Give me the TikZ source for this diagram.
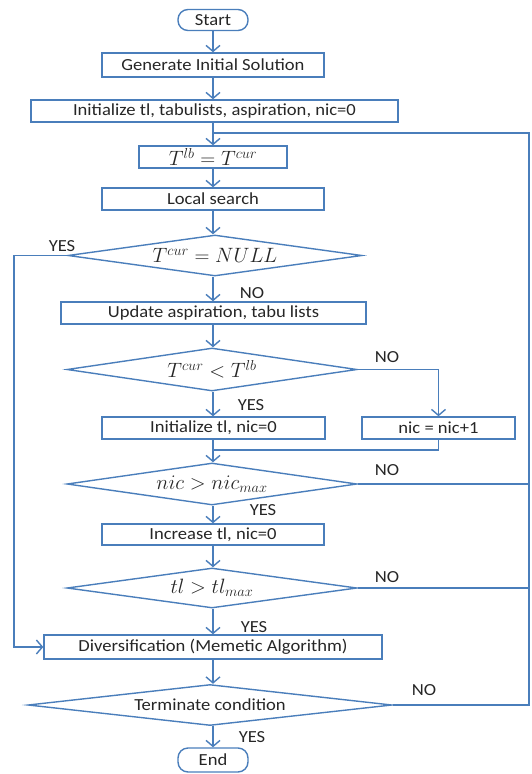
\documentclass[tikz,border=0pt]{standalone}
\usepackage{fontspec}
\setmainfont{Carlito}[FakeStretch=1.1]
\usetikzlibrary{arrows.meta,shapes.geometric}
\definecolor{fl}{HTML}{4A7EBB}
\definecolor{tx}{HTML}{262626}
\newcommand{\mth}[1]{{\fontsize{20}{22}\selectfont$#1$}}
\begin{document}
\begin{tikzpicture}[x=1pt,y=-1pt,
  every node/.style={font=\fontsize{16.9}{18}\selectfont, text=tx},
  box/.style={draw=fl, line width=1.4pt, rectangle, inner sep=0pt},
  term/.style={draw=fl, line width=1.4pt, rectangle, rounded corners=10pt, inner sep=0pt, minimum width=70pt, minimum height=21pt},
  dec/.style={draw=fl, line width=1.4pt, diamond, inner sep=0pt},
  conn/.style={draw=fl, line width=1.4pt},
  arr/.style={conn, -{Straight Barb[length=6pt,width=14pt,line width=1.4pt]}},
  lab/.style={inner sep=0pt}
]
\useasboundingbox (0,0) rectangle (531,774);

\node[term] (start) at (213,20) {Start};
\node[box, minimum width=222pt, minimum height=24pt] (gen) at (213,65) {Generate Initial Solution};
\node[box, minimum width=367pt, minimum height=22pt] (init) at (214.5,111) {Initialize tl, tabulists, aspiration, nic=0};
\node[box, minimum width=148pt, minimum height=22pt] (tlb) at (213,157) {\mth{T^{lb}=T^{cur}}};
\node[box, minimum width=222pt, minimum height=22pt] (ls) at (213,199) {Local search};
\node[dec, minimum width=294pt, minimum height=41pt] (d1) at (215,255.5) {\makebox[0pt]{\mth{T^{cur}=NULL}}};
\node[box, minimum width=305pt, minimum height=22pt] (upd) at (213.5,313) {Update aspiration, tabu lists};
\node[dec, minimum width=290pt, minimum height=43pt] (d2) at (212,369.5) {\makebox[0pt]{\mth{T^{cur}<T^{lb}}}};
\node[box, minimum width=223pt, minimum height=22pt] (initl) at (213.5,428) {Initialize tl, nic=0};
\node[box, minimum width=153pt, minimum height=22pt] (nicb) at (438.5,428) {nic = nic+1};
\node[dec, minimum width=290pt, minimum height=42pt] (d3) at (212,484) {\makebox[0pt]{\mth{nic>nic_{max}}}};
\node[box, minimum width=222pt, minimum height=21pt] (inc) at (213,534.5) {Increase tl, nic=0};
\node[dec, minimum width=290pt, minimum height=40pt] (d4) at (212,588) {\makebox[0pt]{\mth{tl>tl_{max}}}};
\node[box, minimum width=338pt, minimum height=24pt] (div) at (213,647) {Diversification (Memetic Algorithm)};
\node[dec, minimum width=364pt, minimum height=41pt] (d5) at (210,705) {\makebox[0pt]{Terminate condition}};
\node[term, minimum height=24pt] (end) at (213,760) {End};

\coordinate (loopTop) at (529,133);
\coordinate (mainTop) at (213,133);
\coordinate (loopBot) at (529,705);
\coordinate (leftTop) at (14,255.5);
\coordinate (leftBot) at (14,647);
\coordinate (nicR) at (438.5,369.5);
\coordinate (nicM) at (438.5,450);
\coordinate (mainM) at (213,450);

\draw[arr] (start.south) -- (start.south |- gen.north);
\draw[arr] (gen.south) -- (gen.south |- init.north);
\draw[arr] (init.south -| tlb.north) -- (tlb.north);
\draw[arr] (tlb.south) -- (tlb.south |- ls.north);
\draw[arr] (ls.south) -- (ls.south |- d1.north);
\draw[arr] (d1.south -| ls.south) -- (ls.south |- upd.north);
\draw[arr] (upd.south -| ls.south) -- (ls.south |- d2.north);
\draw[arr] (d2.south -| ls.south) -- (ls.south |- initl.north);
\draw[arr] (d2.east) -- (nicR) -- (nicb.north);
\draw[conn] (nicb.south) -- (nicM) -- (mainM);
\draw[arr] (initl.south -| ls.south) -- (ls.south |- d3.north);
\draw[arr] (d3.south -| ls.south) -- (ls.south |- inc.north);
\draw[arr] (inc.south) -- (inc.south |- d4.north);
\draw[arr] (d4.south -| ls.south) -- (ls.south |- div.north);
\draw[arr] (div.south) -- (div.south |- d5.north);
\draw[arr] (d5.south -| end.north) -- (end.north);
\draw[arr] (d1.west) -- (leftTop) -- (leftBot) -- (div.west);
\draw[conn] (d5.east) -- (loopBot) -- (loopTop) -- (mainTop);
\draw[conn] (d3.east) -- (d3.east -| loopTop);
\draw[conn] (d4.east) -- (d4.east -| loopTop);

\node[lab] at (62,246) {YES};
\node[lab] at (252,293) {NO};
\node[lab] at (387,357) {NO};
\node[lab] at (251,405) {YES};
\node[lab] at (387,470) {NO};
\node[lab] at (263,510) {YES};
\node[lab] at (387,577) {NO};
\node[lab] at (254,627) {YES};
\node[lab] at (424,690) {NO};
\node[lab] at (252,737) {YES};
\end{tikzpicture}
\end{document}
